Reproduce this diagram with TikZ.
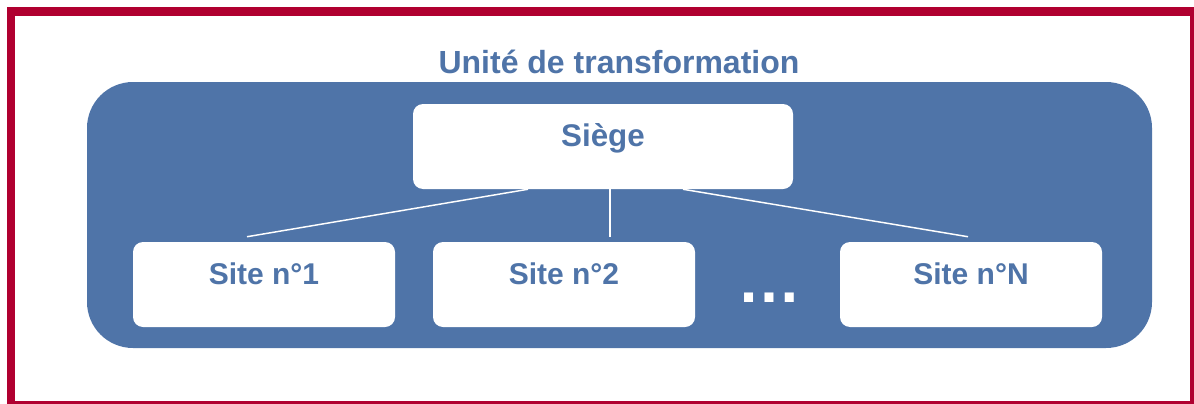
\documentclass[tikz,border=0pt]{standalone}
\usepackage{fontspec}
\setmainfont{Liberation Sans}
\usetikzlibrary{positioning}
\definecolor{framered}{RGB}{176,0,48}
\definecolor{unitblue}{RGB}{79,116,168}

\begin{document}
\begin{tikzpicture}[x=0.75pt,y=-0.75pt,
        boite/.style={fill=white, rounded corners=7.5pt, text=unitblue, inner sep=0pt,
            font=\bfseries\fontsize{22.5}{26}\selectfont, text height=0.7em, text depth=0.7em,
            minimum width=196.5pt, minimum height=63.75pt},
        lien/.style={draw=white, line width=1.1pt}]
    \useasboundingbox (0,0) rectangle (1194,403);
    \clip (0,0) rectangle (1194,403);
    \draw[framered, line width=6.4pt] (11,11.5) rectangle (1194.3,405.3);
    \fill[unitblue, rounded corners=34.5pt] (87,82) rectangle (1152,348);

    \node[text=unitblue, font=\bfseries\fontsize{24}{28}\selectfont, anchor=base] (titre) at (619,74) {Unité de transformation};
    \node[boite, minimum width=285pt, font=\bfseries\fontsize{23.5}{28}\selectfont] (siege) at (603,146.5) {Siège};
    \node[boite] (site1) at (264,284.5) {Site n°1};
    \node[boite] (site2) at (564,284.5) {Site n°2};
    \node[boite] (siteN) at (971,284.5) {Site n°N};
    \node[text=white, font=\bfseries\fontsize{48}{50}\selectfont, anchor=base] (etc) at (769.5,302) {…};

    \draw[lien] ([shift={(-75,0)}]siege.south) -- ([shift={(-17,-5)}]site1.north);
    \draw[lien] ([shift={(7,0)}]siege.south) -- ([shift={(46,-5)}]site2.north);
    \draw[lien] ([shift={(80,0)}]siege.south) -- ([shift={(-3,-5)}]siteN.north);
\end{tikzpicture}
\end{document}
